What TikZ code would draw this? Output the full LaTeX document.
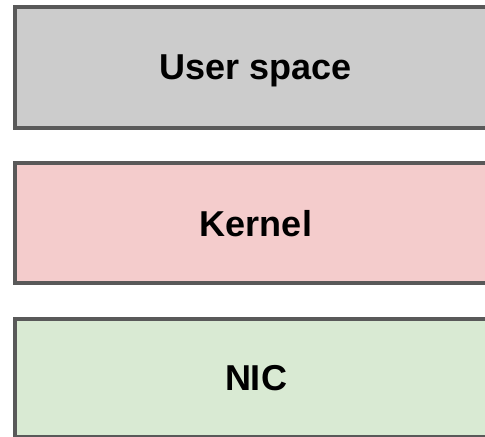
\documentclass[tikz,border=0pt]{standalone}
\usepackage{fontspec}
\setmainfont{Liberation Sans}
\definecolor{bordergray}{HTML}{595959}
\definecolor{usergray}{HTML}{CCCCCC}
\definecolor{kernelpink}{HTML}{F4CCCC}
\definecolor{nicgreen}{HTML}{D9EAD3}
\tikzset{
  layer/.style={draw=bordergray, line width=3pt, minimum width=482*0.75pt, anchor=north west, inner sep=0pt, text depth=0pt, font=\bfseries\fontsize{27}{30}\selectfont, text=black},
}
\begin{document}
\begin{tikzpicture}[x=0.75pt,y=-0.75pt]
\useasboundingbox (0,0) rectangle (485,436);
\clip (0,0) rectangle (485,436);
\node[layer, fill=usergray, minimum height=121*0.75pt] (user) at (13,5) {User space};
\node[layer, fill=kernelpink, minimum height=120*0.75pt] (kernel) at (13,161) {Kernel};
\node[layer, fill=nicgreen, minimum height=118*0.75pt] (nic) at (13,317) {NIC};
\end{tikzpicture}
\end{document}
